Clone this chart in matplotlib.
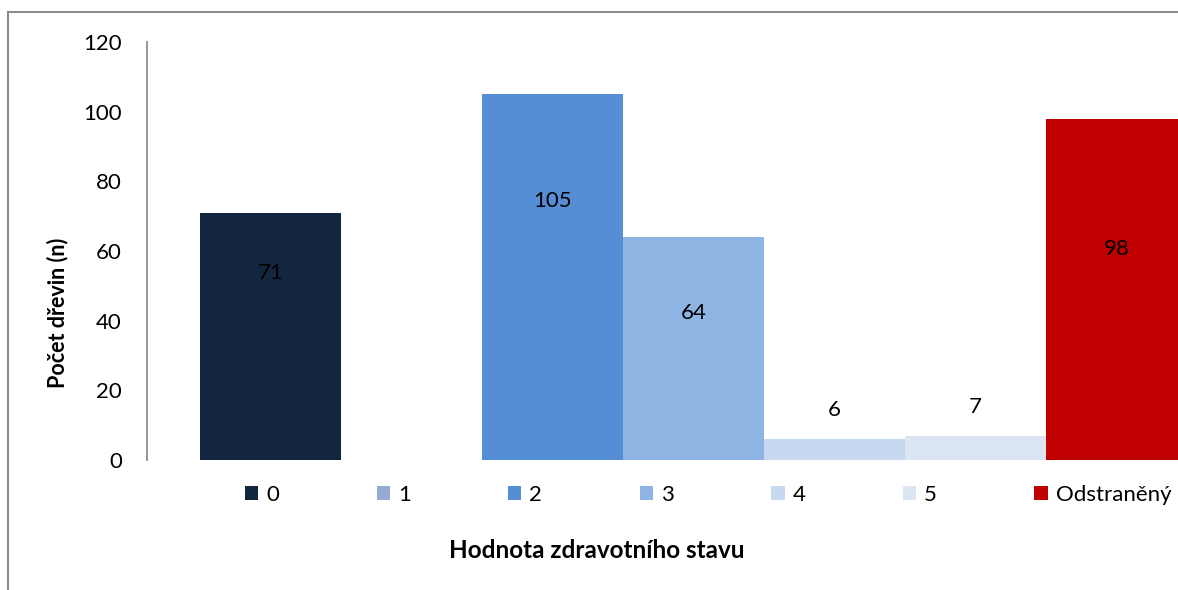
import matplotlib.pyplot as plt
from matplotlib.patches import Patch, Rectangle

plt.rcParams['font.family'] = ['Lato', 'DejaVu Sans']

categories = ['0', '1', '2', '3', '4', '5', 'Odstraněný']
values = [71, 0, 105, 64, 6, 7, 98]
label_y = [53.7, 0, 74.4, 42.2, 14.4, 15.2, 60.6]
colors = ['#12263F', '#95ABD4', '#558ED5', '#8EB4E3', '#C6D9F1', '#DCE6F2', '#C00000']

W, H = 1178, 590
fig = plt.figure(figsize=(W / 100, H / 100), dpi=100)

# outer chart frame (cropped on right and bottom)
fig.patches.append(Rectangle((8 / W, -0.1), 1.2, (H - 12) / H + 0.1, transform=fig.transFigure,
                             fill=False, edgecolor='#8C8C8C', linewidth=1.5))

ax = fig.add_axes([147 / W, 1 - 460 / H, 1 - 147 / W, (460 - 42) / H])
x = list(range(len(categories)))
bars = ax.bar(x, values, width=1.0, color=colors)

for xi, v, ly in zip(x, values, label_y):
    if v > 0:
        ax.text(xi, ly, str(v), ha='center', va='center', fontsize=16, color='black')

ax.set_xlim(-0.5 - 53 / 141, -0.5 + (W - 200) / 141)
ax.set_ylim(0, 120)
ax.set_yticks(range(0, 121, 20))
ax.tick_params(axis='y', length=0, pad=18, labelsize=16)
ax.tick_params(axis='x', bottom=False, labelbottom=False)
for s in ['top', 'right', 'bottom']:
    ax.spines[s].set_visible(False)
ax.spines['left'].set_color('#8C8C8C')
ax.spines['left'].set_linewidth(1.3)

fig.text(58 / W, 1 - 313 / H, 'Počet dřevin (n)', rotation=90, ha='center', va='center',
         fontsize=15.5, fontweight='bold')

handles = [Patch(facecolor=c, edgecolor='none') for c in colors]
fig.legend(handles, categories, loc='center left', bbox_to_anchor=(245 / W, 1 - 495 / H),
           ncol=7, frameon=False, fontsize=16, handlelength=0.6, handleheight=0.6,
           handletextpad=0.36, columnspacing=4.38, borderpad=0, borderaxespad=0)

fig.text(597 / W, 1 - 550 / H, 'Hodnota zdravotního stavu', ha='center', va='center',
         fontsize=17.5, fontweight='bold')

fig.savefig('out.png', dpi=100)
